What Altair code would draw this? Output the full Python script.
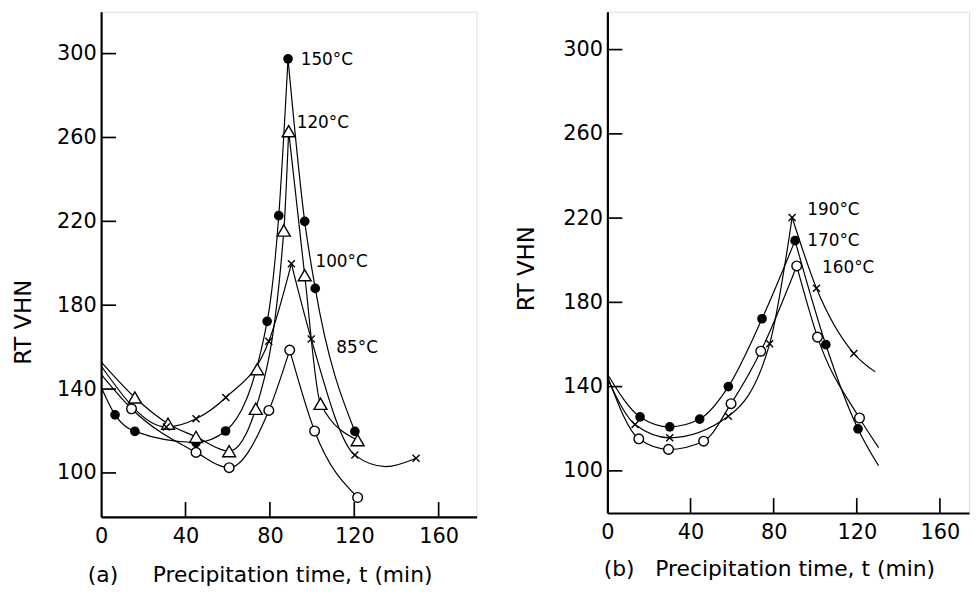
import altair as alt
import pandas as pd

FONT = "DejaVu Sans"
NB = "\u00a0"

# ---------------- Panel (a) : measured points ----------------
a150_t = [6.6, 16, 45, 59, 78.7, 84.2, 88.6, 96.5, 101.5, 120.3]
a150_v = [127.7, 119.8, 114.5, 120, 172.3, 222.7, 297.5, 220, 188, 119.8]
a120_t = [16, 31.7, 45, 60.7, 73.3, 74, 86.6, 88.9, 96.5, 104, 121.6]
a120_v = [136, 123.5, 117.2, 110.4, 130.6, 149.5, 215.6, 263, 194.3, 133, 115.6]
a100_t = [30.9, 45, 59.1, 79.5, 90.2, 99.6, 120.3, 149.3]
a100_v = [121.9, 125.8, 136, 162.8, 199.8, 163.9, 108.5, 107]
a85_t = [14.4, 45, 60.7, 79.5, 89.4, 101.2, 121.6]
a85_v = [130.6, 109.8, 102.5, 129.8, 158.6, 120, 88.3]

# Panel (a) : hand-drawn curves (rise and fall branches)
a150_rise_t = [0, 6.6, 16, 45, 59, 78.7, 84.2, 88.6]
a150_rise_v = [141, 127.7, 119.8, 114.5, 120, 172.3, 222.7, 297.5]
a150_fall_t = [88.6, 96.5, 101.5, 120.3]
a150_fall_v = [297.5, 220, 188, 119.8]
a120_rise_t = [0, 16, 31.7, 45, 60.7, 73.3, 86.6, 88.9]
a120_rise_v = [153, 136, 123.5, 117.2, 110.4, 130.6, 215.6, 263]
a120_fall_t = [88.9, 96.5, 104, 121.6]
a120_fall_v = [263, 194.3, 133, 115.6]
a100_rise_t = [0, 30.9, 45, 59.1, 79.5, 90.2]
a100_rise_v = [151, 121.9, 125.8, 136, 162.8, 199.8]
a100_fall_t = [90.2, 99.6, 120.3, 135, 149.3]
a100_fall_v = [199.8, 163.9, 108.5, 103, 107]
a85_rise_t = [0, 14.4, 45, 60.7, 79.5, 89.4]
a85_rise_v = [147, 130.6, 109.8, 102.5, 129.8, 158.6]
a85_fall_t = [89.4, 101.2, 121.6]
a85_fall_v = [158.6, 120, 88.3]

a_label_text = ["150°C", "120°C", "100°C", "85°C"]
a_label_t = [94.6, 92.7, 101.6, 111.5]
a_label_v = [297, 266.7, 200.6, 159.5]

# ---------------- Panel (b) : measured points ----------------
b170_t = [15.7, 30, 44.4, 58.2, 74.4, 90.3, 105.1, 120.6]
b170_v = [125.6, 120.9, 124.6, 140, 172.2, 209.3, 159.9, 119.9]
b160_t = [15.1, 29.4, 46.3, 59.5, 73.8, 91.1, 101.1, 121.3]
b160_v = [115.2, 110.2, 114.1, 131.9, 156.8, 197.3, 163.5, 125.1]
b190_t = [13.3, 30, 58.2, 78.1, 88.9, 100.6, 118.6]
b190_v = [122, 115.7, 125.9, 160.4, 220.3, 186.7, 155.7]

b170_rise_t = [0, 15.7, 30, 44.4, 58.2, 74.4, 90.3]
b170_rise_v = [146, 125.6, 120.9, 124.6, 140, 172.2, 209.3]
b170_fall_t = [90.3, 105.1, 120.6, 130.5]
b170_fall_v = [209.3, 159.9, 119.9, 102.4]
b160_rise_t = [0, 15.1, 29.4, 46.3, 59.5, 73.8, 91.1]
b160_rise_v = [145, 115.2, 110.2, 114.1, 131.9, 156.8, 197.3]
b160_fall_t = [91.1, 101.1, 121.3, 130.5]
b160_fall_v = [197.3, 163.5, 125.1, 111]
b190_rise_t = [0, 13.3, 30, 58.2, 78.1, 88.9]
b190_rise_v = [144, 122, 115.7, 125.9, 160.4, 220.3]
b190_fall_t = [88.9, 100.6, 118.6, 128.9]
b190_fall_v = [220.3, 186.7, 155.7, 147]

b_label_text = ["190°C", "170°C", "160°C"]
b_label_t = [96.2, 96.2, 103.3]
b_label_v = [223.8, 209.2, 196.5]

x_ticks = [40, 80, 120, 160]
x_labels = [0, 40, 80, 120, 160]
y_ticks = [100, 140, 180, 220, 260, 300]


def curve_df(branches):
    rows = []
    for name, ts, vs in branches:
        for t, v in zip(ts, vs):
            rows.append({"t": t, "v": v, "c": name})
    return pd.DataFrame(rows)


def pts(ts, vs):
    return pd.DataFrame({"t": ts, "v": vs})


def panel(curves, markers, labels, xdom, ydom, w, h, ytx, yty, xtitle, xtx, xty):
    X = alt.X(
        "t:Q",
        scale=alt.Scale(domain=xdom, nice=False, zero=False),
        axis=alt.Axis(
            values=x_labels, format="d", ticks=False, tickSize=0, grid=False,
            domainColor="black", domainWidth=2.2, labelFont=FONT, labelFontSize=21,
            labelColor="black", labelPadding=9, labelFlush=False,
            title=xtitle, titleFont=FONT, titleFontSize=22, titleFontWeight="normal",
            titleColor="black", titleX=xtx, titleY=xty, titleAlign="center",
            titleBaseline="middle",
        ),
    )
    Y = alt.Y(
        "v:Q",
        scale=alt.Scale(domain=ydom, nice=False, zero=False),
        axis=alt.Axis(
            values=y_ticks, format="d", ticks=False, tickSize=0, grid=False,
            domainColor="black", domainWidth=2.2, labelFont=FONT, labelFontSize=21,
            labelColor="black", labelPadding=5,
            title="RT VHN", titleFont=FONT, titleFontSize=23, titleFontWeight="normal",
            titleColor="black", titleX=ytx, titleY=yty, titleAlign="center",
            titleBaseline="middle",
        ),
    )

    layers = []
    layers.append(
        alt.Chart(curves).mark_line(interpolate="monotone", color="black", strokeWidth=1.2)
        .encode(x=X, y=Y, detail="c:N")
    )
    for df, kind in markers:
        if kind == "dot":
            m = alt.Chart(df).mark_point(shape="circle", filled=True, size=95, color="black", opacity=1)
        elif kind == "ring":
            m = alt.Chart(df).mark_point(shape="circle", filled=True, size=95, fill="white",
                                         stroke="black", strokeWidth=1.4, opacity=1)
        elif kind == "tri":
            m = alt.Chart(df).mark_point(shape="triangle-up", filled=True, size=170, fill="white",
                                         stroke="black", strokeWidth=1.4, opacity=1)
        else:
            m = alt.Chart(df).mark_point(shape="M-1,-1L1,1M-1,1L1,-1", filled=False, size=50,
                                         stroke="black", strokeWidth=1.4, opacity=1)
        layers.append(m.encode(x=X, y=Y))

    # inward tick marks drawn as line-shaped symbols (15 px long)
    ydf = pd.DataFrame({"v": y_ticks, "t": [xdom[0]] * len(y_ticks)})
    layers.append(
        alt.Chart(ydf).mark_point(shape="M0,0L2,0", filled=False, size=225,
                                  stroke="black", strokeWidth=1.7, opacity=1)
        .encode(x=X, y=Y)
    )
    xdf = pd.DataFrame({"t": x_ticks, "v": [ydom[0]] * len(x_ticks)})
    layers.append(
        alt.Chart(xdf).mark_point(shape="M0,0L0,-2", filled=False, size=225,
                                  stroke="black", strokeWidth=1.7, opacity=1)
        .encode(x=X, y=Y)
    )
    layers.append(
        alt.Chart(labels).mark_text(align="left", baseline="middle", font=FONT, fontSize=17, color="black")
        .encode(x=X, y=Y, text="txt:N")
    )
    return alt.layer(*layers).properties(width=w, height=h)


a_curves = curve_df([
    ("150r", a150_rise_t, a150_rise_v), ("150f", a150_fall_t, a150_fall_v),
    ("120r", a120_rise_t, a120_rise_v), ("120f", a120_fall_t, a120_fall_v),
    ("100r", a100_rise_t, a100_rise_v), ("100f", a100_fall_t, a100_fall_v),
    ("85r", a85_rise_t, a85_rise_v), ("85f", a85_fall_t, a85_fall_v),
])
b_curves = curve_df([
    ("170r", b170_rise_t, b170_rise_v), ("170f", b170_fall_t, b170_fall_v),
    ("160r", b160_rise_t, b160_rise_v), ("160f", b160_fall_t, b160_fall_v),
    ("190r", b190_rise_t, b190_rise_v), ("190f", b190_fall_t, b190_fall_v),
])

a_labels = pd.DataFrame({"t": a_label_t, "v": a_label_v, "txt": a_label_text})
b_labels = pd.DataFrame({"t": b_label_t, "v": b_label_v, "txt": b_label_text})

pa = panel(
    a_curves,
    [(pts(a150_t, a150_v), "dot"), (pts(a120_t, a120_v), "tri"),
     (pts(a100_t, a100_v), "x"), (pts(a85_t, a85_v), "ring")],
    a_labels, [0, 178], [79, 320], 379, 510,
    -78, 313, "(a)" + NB * 5 + "Precipitation time, t (min)", 160, 58,
)
pb = panel(
    b_curves,
    [(pts(b170_t, b170_v), "dot"), (pts(b160_t, b160_v), "ring"),
     (pts(b190_t, b190_v), "x")],
    b_labels, [0, 174], [80, 318], 365, 506,
    -82, 259, "(b)" + NB * 3 + "Precipitation time, t (min)", 163, 56,
)

chart = (
    alt.hconcat(pa, pb, spacing=37)
    .properties(padding={"left": 4, "top": 0, "right": 0, "bottom": 0})
    .configure_view(stroke="black", strokeWidth=1.5)
    .configure(background="white")
)

chart.save("out.html", embed_options={"renderer": "svg", "actions": False})
